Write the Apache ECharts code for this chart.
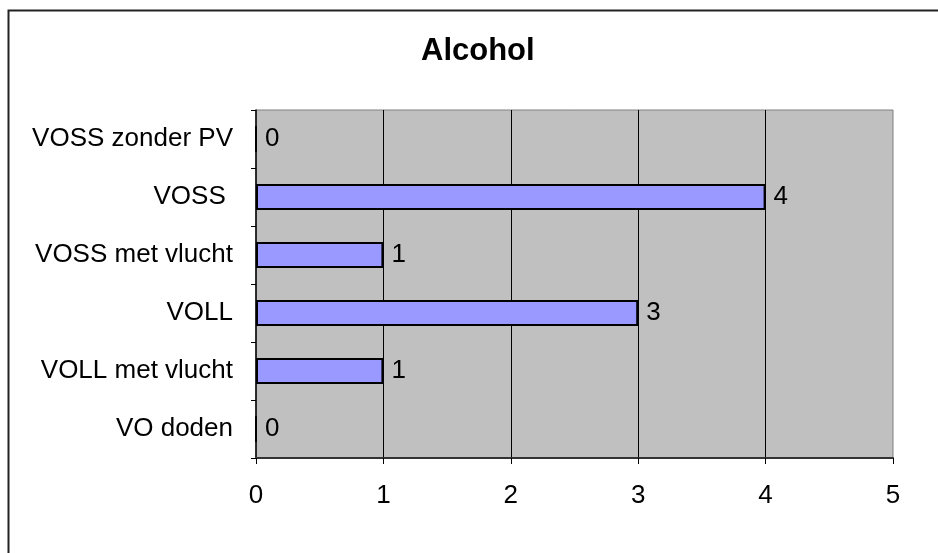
<!DOCTYPE html>
<html>
<head>
<meta charset="utf-8">
<script src="https://cdn.jsdelivr.net/npm/echarts@6/dist/echarts.min.js"></script>
<style>
  html, body { margin: 0; padding: 0; background: #fff; }
  #chart { width: 938px; height: 553px; }
</style>
</head>
<body>
<div id="chart"></div>
<script>
const categories = ['VOSS zonder PV', 'VOSS ', 'VOSS met vlucht', 'VOLL', 'VOLL met vlucht', 'VO doden'];
const counts = [0, 4, 1, 3, 1, 0];
const xTicks = [0, 1, 2, 3, 4, 5];

const FONT = 'Liberation Sans, Arial, sans-serif';
const chart = echarts.init(document.getElementById('chart'));

chart.setOption({
  animation: false,
  backgroundColor: '#fff',
  title: {
    text: 'Alcohol',
    left: 421,
    top: 36,
    padding: 0,
    textStyle: { fontFamily: FONT, fontSize: 31, fontWeight: 'bold', color: '#000' }
  },
  graphic: [{
    type: 'rect',
    shape: { x: 8.5, y: 10.5, width: 1200, height: 1200 },
    style: { fill: null, stroke: '#222', lineWidth: 2 },
    silent: true
  }],
  grid: {
    left: 256,
    right: 45,
    top: 110,
    bottom: 95,
    show: true,
    backgroundColor: '#C0C0C0',
    borderColor: '#808080',
    borderWidth: 1
  },
  xAxis: {
    type: 'value',
    min: xTicks[0],
    max: xTicks[xTicks.length - 1],
    interval: 1,
    axisLine: { show: true, lineStyle: { color: '#333', width: 2 } },
    axisTick: { show: true, length: 6, lineStyle: { color: '#000' } },
    axisLabel: { margin: 25, fontFamily: FONT, fontSize: 26, color: '#000' },
    splitLine: { show: true, showMinLine: false, showMaxLine: false, lineStyle: { color: '#000', width: 1 } }
  },
  yAxis: {
    type: 'category',
    data: categories,
    inverse: true,
    axisLine: { show: true, lineStyle: { color: '#000', width: 1.5 } },
    axisTick: { show: true, length: 5, lineStyle: { color: '#000' } },
    axisLabel: { margin: 23, fontFamily: FONT, fontSize: 26, color: '#000' },
    splitLine: { show: false }
  },
  series: [{
    type: 'bar',
    data: counts,
    barWidth: 26,
    itemStyle: { color: '#9999FF', borderColor: '#000', borderWidth: 2 },
    label: {
      show: true,
      position: 'right',
      distance: 8,
      fontFamily: FONT,
      fontSize: 26,
      color: '#000'
    }
  }]
});
</script>
</body>
</html>
